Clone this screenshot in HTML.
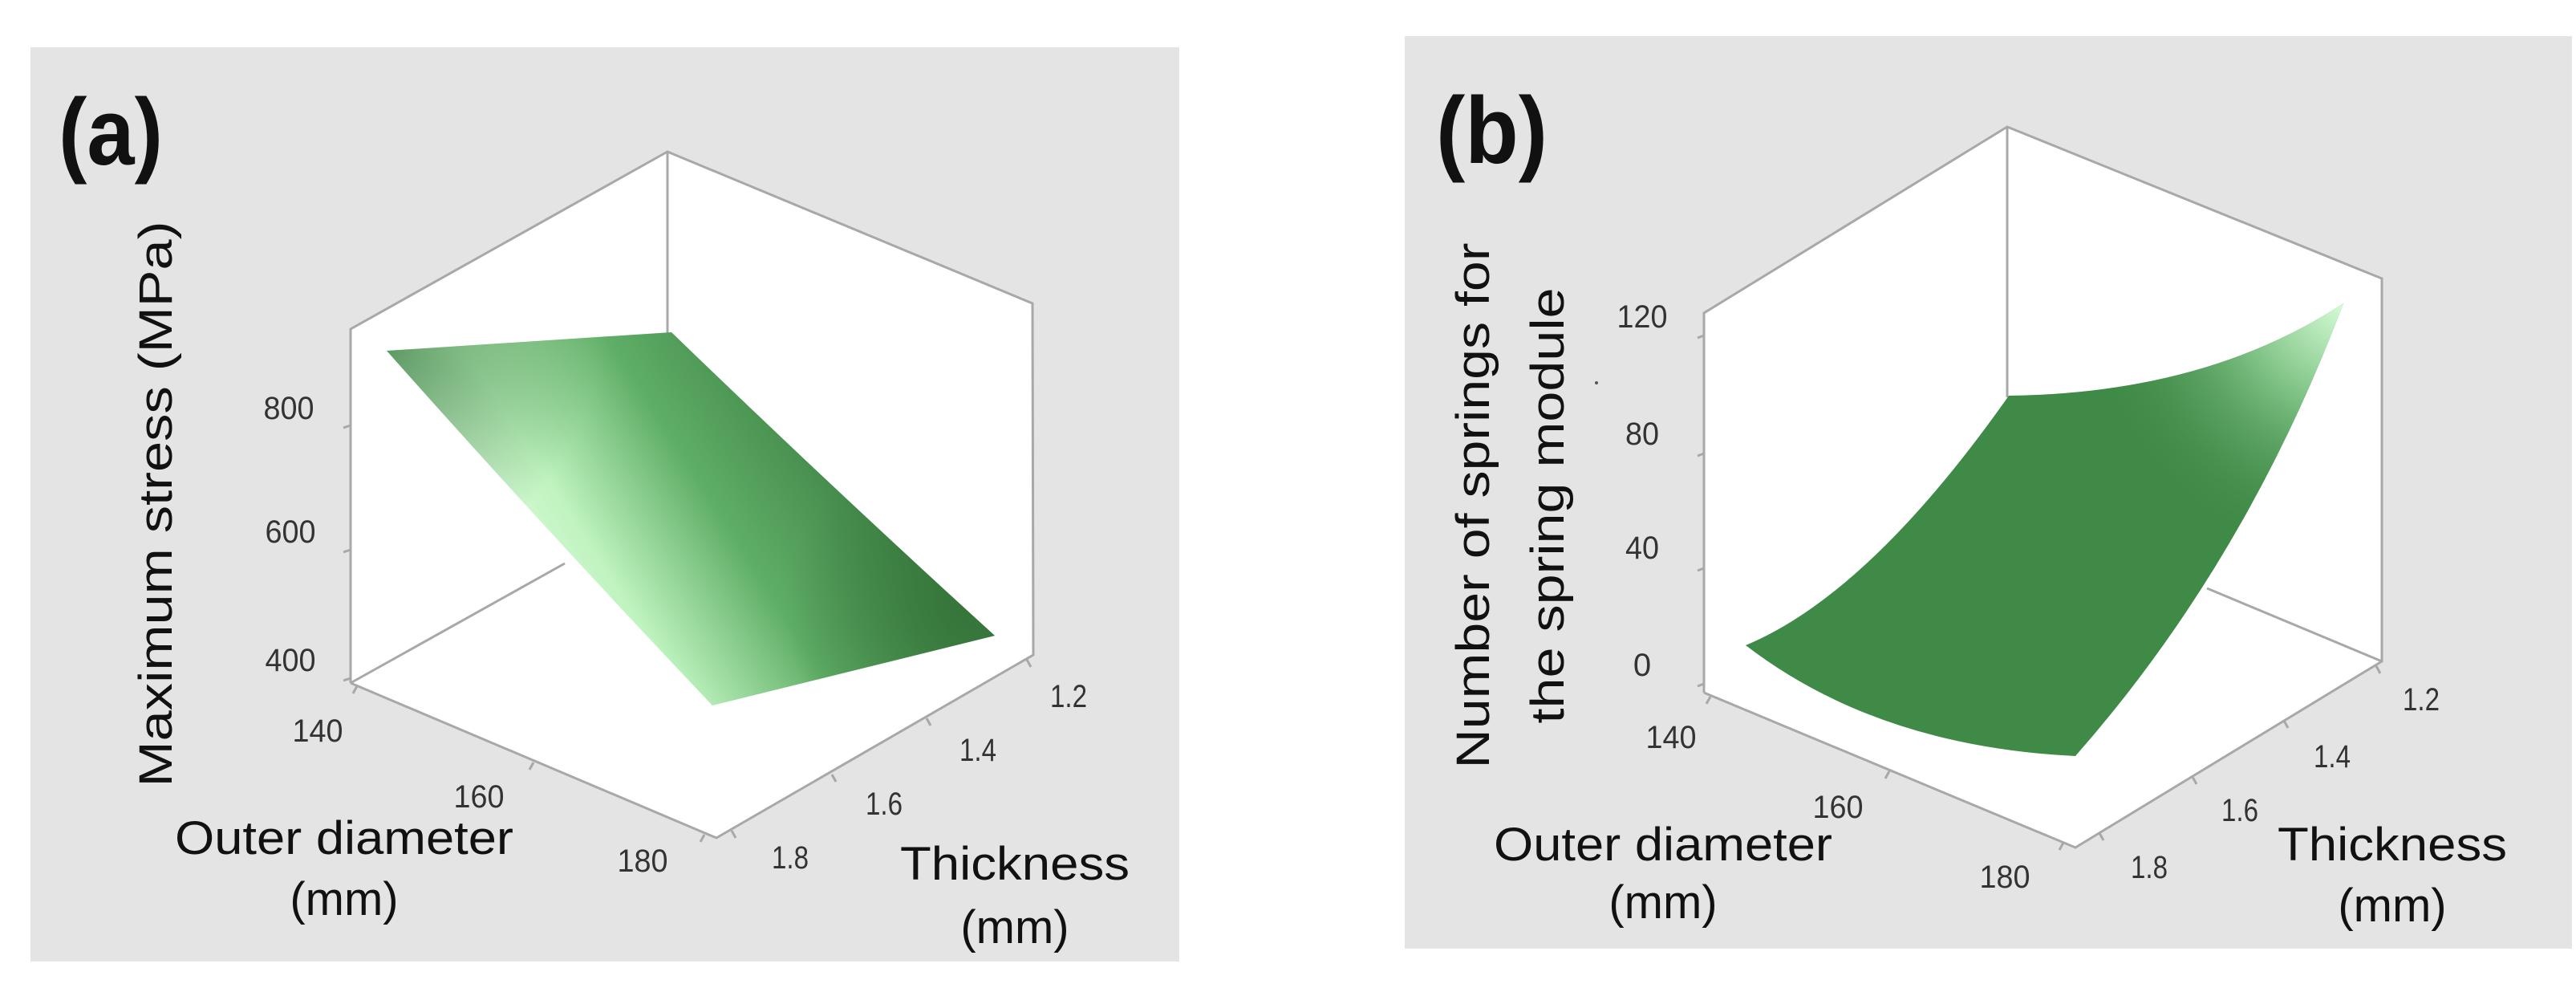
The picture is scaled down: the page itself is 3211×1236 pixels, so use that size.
<!DOCTYPE html>
<html><head><meta charset="utf-8"><style>
html,body{margin:0;padding:0;background:#fff;}
svg{display:block;}
text{font-family:"Liberation Sans",sans-serif;fill:#111;}
.t{font-size:40px;fill:#333;}
.l{font-size:58px;}
</style></head><body>
<svg width="3211" height="1236" viewBox="0 0 3211 1236" xmlns="http://www.w3.org/2000/svg">
<defs>
<linearGradient id="ga" gradientUnits="userSpaceOnUse" x1="640" y1="820" x2="1080" y2="540">
<stop offset="0" stop-color="#f0fff0"/>
<stop offset="0.3" stop-color="#bff3bf"/>
<stop offset="0.6" stop-color="#5fae66"/>
<stop offset="1" stop-color="#3a7d41"/>
</linearGradient>
<radialGradient id="gad" gradientUnits="userSpaceOnUse" cx="482" cy="437" r="260">
<stop offset="0" stop-color="#4f8f56" stop-opacity="0.9"/>
<stop offset="1" stop-color="#4f8f56" stop-opacity="0"/>
</radialGradient>
<radialGradient id="gad2" gradientUnits="userSpaceOnUse" cx="1200" cy="760" r="220">
<stop offset="0" stop-color="#347238" stop-opacity="0.8"/>
<stop offset="1" stop-color="#347238" stop-opacity="0"/>
</radialGradient>
<radialGradient id="gb" gradientUnits="userSpaceOnUse" cx="2925" cy="375" r="330">
<stop offset="0" stop-color="#d8ffd8"/>
<stop offset="0.4" stop-color="#7fc285"/>
<stop offset="1" stop-color="#3f8a47" stop-opacity="0"/>
</radialGradient>
</defs>

<!-- Panel a -->
<rect x="38" y="59" width="1432" height="1139" fill="#e4e4e4"/>
<polygon points="437,410 832,189 1287,378 1288,816 893,1044 437,851" fill="#fff"/>
<g stroke="#a8a8a8" stroke-width="3" fill="none">
<polyline points="437,851 437,410 832,189 1287,378 1288,816 893,1044 437,851"/>
<line x1="832" y1="189" x2="832" y2="420"/>
<line x1="437" y1="851" x2="704" y2="702"/>
<line x1="437" y1="530" x2="428" y2="533"/><line x1="437" y1="685" x2="428" y2="688"/><line x1="437" y1="845" x2="428" y2="848"/>
<line x1="445" y1="855" x2="440" y2="864"/><line x1="665" y1="950" x2="660" y2="959"/><line x1="878" y1="1040" x2="873" y2="1049"/>
<line x1="1280" y1="822" x2="1285" y2="831"/><line x1="1155" y1="895" x2="1160" y2="904"/><line x1="1037" y1="965" x2="1042" y2="974"/><line x1="912" y1="1035" x2="917" y2="1044"/>
</g>
<path d="M482,437 L837,414 Q1040,610 1240,792 L888,879 Q680,660 482,437 Z" fill="url(#ga)"/>
<path d="M482,437 L837,414 Q1040,610 1240,792 L888,879 Q680,660 482,437 Z" fill="url(#gad)"/>
<path d="M482,437 L837,414 Q1040,610 1240,792 L888,879 Q680,660 482,437 Z" fill="url(#gad2)"/>

<text x="73" y="205" font-size="118" font-weight="bold" textLength="130" lengthAdjust="spacingAndGlyphs" style="fill:#111">(a)</text>
<text class="t" x="360" y="522" text-anchor="middle" textLength="63" lengthAdjust="spacingAndGlyphs">800</text>
<text class="t" x="362" y="676" text-anchor="middle" textLength="63" lengthAdjust="spacingAndGlyphs">600</text>
<text class="t" x="362" y="836" text-anchor="middle" textLength="63" lengthAdjust="spacingAndGlyphs">400</text>
<text class="t" x="396" y="924" text-anchor="middle" textLength="63" lengthAdjust="spacingAndGlyphs">140</text>
<text class="t" x="597" y="1006" text-anchor="middle" textLength="63" lengthAdjust="spacingAndGlyphs">160</text>
<text class="t" x="801" y="1086" text-anchor="middle" textLength="63" lengthAdjust="spacingAndGlyphs">180</text>
<text class="t" x="1332" y="881" text-anchor="middle" textLength="46" lengthAdjust="spacingAndGlyphs">1.2</text>
<text class="t" x="1219" y="948" text-anchor="middle" textLength="46" lengthAdjust="spacingAndGlyphs">1.4</text>
<text class="t" x="1102" y="1015" text-anchor="middle" textLength="46" lengthAdjust="spacingAndGlyphs">1.6</text>
<text class="t" x="985" y="1082" text-anchor="middle" textLength="46" lengthAdjust="spacingAndGlyphs">1.8</text>
<text class="l" x="429" y="1064" text-anchor="middle" textLength="422" lengthAdjust="spacingAndGlyphs">Outer diameter</text>
<text class="l" x="429" y="1140" text-anchor="middle">(mm)</text>
<text class="l" x="1265" y="1096" text-anchor="middle" textLength="286" lengthAdjust="spacingAndGlyphs">Thickness</text>
<text class="l" x="1265" y="1175" text-anchor="middle">(mm)</text>
<text class="l" transform="translate(214,628) rotate(-90)" text-anchor="middle" font-size="62" textLength="705" lengthAdjust="spacingAndGlyphs">Maximum stress (MPa)</text>

<!-- Panel b -->
<rect x="1751" y="45" width="1455" height="1137" fill="#e4e4e4"/>
<polygon points="2124,390 2502,158 2969,347 2969,824 2587,1056 2124,863" fill="#fff"/>
<g stroke="#a8a8a8" stroke-width="3" fill="none">
<polyline points="2124,863 2124,390 2502,158 2969,347 2969,824 2587,1056 2124,863"/>
<line x1="2502" y1="158" x2="2502" y2="495"/>
<line x1="2751" y1="733" x2="2969" y2="824"/>
<line x1="2124" y1="418" x2="2116" y2="421"/><line x1="2124" y1="565" x2="2116" y2="568"/><line x1="2124" y1="708" x2="2116" y2="711"/><line x1="2124" y1="852" x2="2116" y2="855"/>
<line x1="2132" y1="868" x2="2127" y2="877"/><line x1="2355" y1="961" x2="2350" y2="970"/><line x1="2572" y1="1050" x2="2567" y2="1059"/>
<line x1="2962" y1="830" x2="2967" y2="839"/><line x1="2847" y1="898" x2="2852" y2="907"/><line x1="2733" y1="968" x2="2738" y2="977"/><line x1="2617" y1="1038" x2="2622" y2="1047"/>
</g>
<path d="M2176,804 Q2330,740 2504,493 Q2750,490 2921,378 Q2800,700 2587,942 Q2340,930 2176,804 Z" fill="#3f8a47"/>
<path d="M2176,804 Q2330,740 2504,493 Q2750,490 2921,378 Q2800,700 2587,942 Q2340,930 2176,804 Z" fill="url(#gb)"/>
<circle cx="1990" cy="477" r="2" fill="#555"/>

<text x="1790" y="203" font-size="118" font-weight="bold" textLength="139" lengthAdjust="spacingAndGlyphs" style="fill:#111">(b)</text>
<text class="t" x="2047" y="408" text-anchor="middle" textLength="63" lengthAdjust="spacingAndGlyphs">120</text>
<text class="t" x="2047" y="554" text-anchor="middle" textLength="42" lengthAdjust="spacingAndGlyphs">80</text>
<text class="t" x="2047" y="696" text-anchor="middle" textLength="42" lengthAdjust="spacingAndGlyphs">40</text>
<text class="t" x="2047" y="842" text-anchor="middle">0</text>
<text class="t" x="2083" y="932" text-anchor="middle" textLength="63" lengthAdjust="spacingAndGlyphs">140</text>
<text class="t" x="2291" y="1019" text-anchor="middle" textLength="63" lengthAdjust="spacingAndGlyphs">160</text>
<text class="t" x="2499" y="1106" text-anchor="middle" textLength="63" lengthAdjust="spacingAndGlyphs">180</text>
<text class="t" x="3018" y="885" text-anchor="middle" textLength="46" lengthAdjust="spacingAndGlyphs">1.2</text>
<text class="t" x="2907" y="956" text-anchor="middle" textLength="46" lengthAdjust="spacingAndGlyphs">1.4</text>
<text class="t" x="2792" y="1023" text-anchor="middle" textLength="46" lengthAdjust="spacingAndGlyphs">1.6</text>
<text class="t" x="2679" y="1094" text-anchor="middle" textLength="46" lengthAdjust="spacingAndGlyphs">1.8</text>
<text class="l" x="2073" y="1072" text-anchor="middle" textLength="422" lengthAdjust="spacingAndGlyphs">Outer diameter</text>
<text class="l" x="2073" y="1144" text-anchor="middle">(mm)</text>
<text class="l" x="2982" y="1072" text-anchor="middle" textLength="286" lengthAdjust="spacingAndGlyphs">Thickness</text>
<text class="l" x="2982" y="1148" text-anchor="middle">(mm)</text>
<text class="l" transform="translate(1856,630) rotate(-90)" text-anchor="middle" font-size="60" textLength="655" lengthAdjust="spacingAndGlyphs">Number of springs for</text>
<text class="l" transform="translate(1949,630) rotate(-90)" text-anchor="middle" font-size="60" textLength="543" lengthAdjust="spacingAndGlyphs">the spring module</text>
</svg>
</body></html>
